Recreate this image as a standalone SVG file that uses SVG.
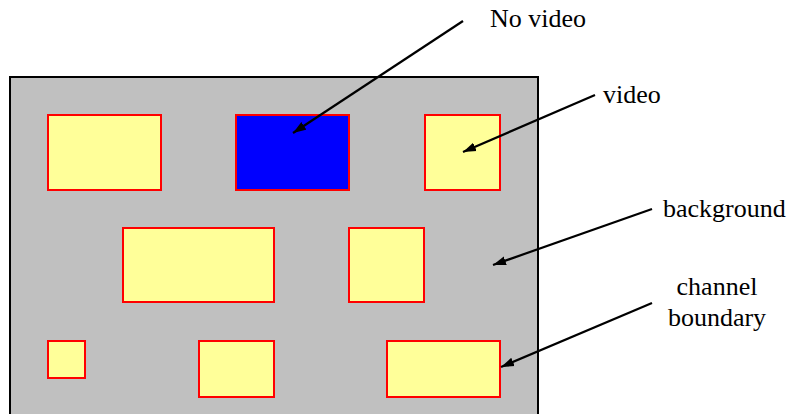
<svg xmlns="http://www.w3.org/2000/svg" width="792" height="414" viewBox="0 0 792 414">
<defs>
<style>
.bg{fill:#c0c0c0;stroke:#000;stroke-width:2}
.ch{fill:#ffff99;stroke:#ff0000;stroke-width:2}
.nv{fill:#0000ff;stroke:#ff0000;stroke-width:2}
text{font-family:"Times New Roman",Times,"Liberation Serif","DejaVu Serif",serif;font-size:26px;fill:#000}
.ar{stroke:#000;stroke-width:2.2;fill:none;marker-end:url(#ah)}
</style>
<marker id="ah" markerUnits="userSpaceOnUse" markerWidth="14" markerHeight="10" refX="13" refY="5" orient="auto">
<path d="M0,0.5 L13,5 L0,9.5 Z" fill="#000"/>
</marker>
</defs>
<rect width="792" height="414" fill="#fff"/>
<g id="background"><rect class="bg" x="10" y="77" width="528" height="345"/></g>
<g id="ch1"><rect class="ch" x="48" y="115" width="113" height="75"/></g>
<g id="ch2"><rect class="nv" x="236" y="115" width="113" height="75"/></g>
<g id="ch3"><rect class="ch" x="425" y="115" width="75" height="75"/></g>
<g id="ch4"><rect class="ch" x="123" y="228" width="151" height="74"/></g>
<g id="ch5"><rect class="ch" x="349" y="228" width="75" height="74"/></g>
<g id="ch6"><rect class="ch" x="48" y="341" width="37" height="37"/></g>
<g id="ch7"><rect class="ch" x="199" y="341" width="75" height="56"/></g>
<g id="ch8"><rect class="ch" x="387" y="341" width="113" height="56"/></g>
<g id="connectors">
<line class="ar" x1="463" y1="21" x2="293" y2="133"/>
<line class="ar" x1="595" y1="95" x2="463" y2="152"/>
<line class="ar" x1="652" y1="209" x2="493" y2="265"/>
<line class="ar" x1="652" y1="303" x2="501" y2="367"/>
</g>
<g id="labels">
<text x="538" y="27" text-anchor="middle" font-family="Liberation Serif, serif">No video</text>
<text x="603" y="103" font-family="Liberation Serif, serif">video</text>
<text x="663" y="217" font-family="Liberation Serif, serif">background</text>
<text x="717" y="295" text-anchor="middle" font-family="Liberation Serif, serif">channel</text>
<text x="717" y="326" text-anchor="middle" font-family="Liberation Serif, serif">boundary</text>
</g>
</svg>
